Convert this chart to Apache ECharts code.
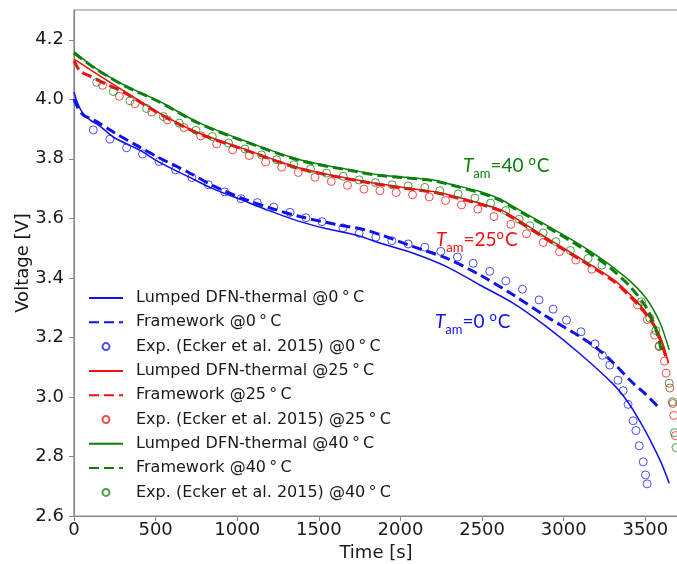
<!DOCTYPE html>
<html>
<head>
<meta charset="utf-8">
<script src="https://cdn.jsdelivr.net/npm/echarts@6/dist/echarts.min.js"></script>
<style>
html,body{margin:0;padding:0;background:#fff;}
#chart{width:677px;height:564px;}
</style>
</head>
<body>
<div id="chart"></div>
<script>
// ---------- data (time [s], voltage [V]) ----------
const xTicks = [0, 500, 1000, 1500, 2000, 2500, 3000, 3500];
const yTicks = [2.6, 2.8, 3.0, 3.2, 3.4, 3.6, 3.8, 4.0, 4.2];

// Lumped DFN-thermal @0 C
const tLumped0 = [0, 20, 50, 100, 159, 250, 400, 527, 700, 850, 1027, 1200, 1384, 1550, 1751, 1874, 2078, 2282, 2486, 2690, 2894, 3099, 3303, 3394, 3480, 3548, 3600, 3646];
const vLumped0 = [4.025, 3.99, 3.957, 3.93, 3.91, 3.87, 3.83, 3.787, 3.74, 3.70, 3.662, 3.625, 3.589, 3.565, 3.54, 3.517, 3.483, 3.438, 3.376, 3.315, 3.236, 3.145, 3.043, 2.982, 2.905, 2.835, 2.775, 2.71];
// Framework @0 C
const tFrame0 = [0, 25, 55, 100, 139, 250, 400, 527, 700, 850, 1027, 1200, 1384, 1600, 1792, 2078, 2282, 2486, 2690, 2894, 3099, 3200, 3303, 3425, 3500, 3578];
const vFrame0 = [4.00, 3.97, 3.948, 3.935, 3.925, 3.887, 3.84, 3.802, 3.755, 3.71, 3.668, 3.635, 3.606, 3.58, 3.56, 3.505, 3.466, 3.41, 3.343, 3.27, 3.203, 3.165, 3.115, 3.046, 3.01, 2.967];
// Exp. (Ecker et al. 2015) @0 C
const tExp0 = [118, 220, 322, 420, 521, 622, 722, 823, 923, 1023, 1123, 1223, 1323, 1421, 1519, 1647, 1747, 1849, 1947, 2047, 2149, 2247, 2349, 2445, 2547, 2645, 2747, 2849, 2935, 3017, 3106, 3191, 3237, 3282, 3332, 3364, 3394, 3425, 3442, 3462, 3487, 3501, 3511];
const vExp0 = [3.897, 3.866, 3.837, 3.816, 3.791, 3.763, 3.737, 3.713, 3.689, 3.666, 3.653, 3.638, 3.62, 3.602, 3.589, 3.568, 3.55, 3.537, 3.525, 3.514, 3.503, 3.489, 3.47, 3.449, 3.422, 3.39, 3.362, 3.326, 3.295, 3.258, 3.219, 3.178, 3.14, 3.107, 3.056, 3.021, 2.975, 2.92, 2.887, 2.836, 2.782, 2.738, 2.708];

// Lumped DFN-thermal @25 C
const tLumped25 = [0, 118, 300, 527, 750, 1027, 1384, 1751, 2000, 2200, 2282, 2486, 2609, 2690, 2894, 3099, 3303, 3405, 3466, 3548, 3600, 3642];
const vLumped25 = [4.135, 4.093, 4.03, 3.953, 3.89, 3.836, 3.769, 3.727, 3.705, 3.690, 3.681, 3.651, 3.630, 3.606, 3.535, 3.466, 3.395, 3.345, 3.31, 3.25, 3.19, 3.113];
// Framework @25 C
const tFrame25 = [0, 37, 100, 200, 300, 527, 750, 1027, 1384, 1751, 2000, 2200, 2282, 2486, 2609, 2690, 2894, 3099, 3303, 3405, 3466, 3548, 3600, 3633];
const vFrame25 = [4.13, 4.095, 4.077, 4.05, 4.025, 3.95, 3.888, 3.834, 3.767, 3.725, 3.703, 3.688, 3.678, 3.648, 3.626, 3.601, 3.53, 3.462, 3.39, 3.338, 3.303, 3.245, 3.18, 3.12];
// Exp. @25 C
const tExp25 = [175, 278, 374, 476, 572, 674, 776, 874, 972, 1074, 1174, 1272, 1374, 1476, 1576, 1675, 1776, 1874, 1974, 2074, 2176, 2276, 2374, 2474, 2573, 2676, 2772, 2874, 2974, 3074, 3172, 3452, 3512, 3556, 3586, 3617, 3627, 3650, 3668, 3674, 3684];
const vExp25 = [4.047, 4.01, 3.985, 3.957, 3.931, 3.905, 3.877, 3.85, 3.83, 3.811, 3.789, 3.772, 3.754, 3.738, 3.724, 3.711, 3.698, 3.693, 3.687, 3.679, 3.672, 3.66, 3.645, 3.631, 3.606, 3.58, 3.548, 3.519, 3.488, 3.46, 3.429, 3.309, 3.26, 3.208, 3.172, 3.12, 3.08, 3.03, 2.978, 2.938, 2.87];

// Lumped DFN-thermal @40 C
const tLumped40 = [0, 118, 300, 527, 750, 1027, 1384, 1751, 1874, 2200, 2282, 2486, 2609, 2690, 2894, 3099, 3221, 3303, 3405, 3507, 3589, 3646];
const vLumped40 = [4.16, 4.11, 4.05, 3.992, 3.925, 3.864, 3.797, 3.757, 3.746, 3.729, 3.718, 3.69, 3.665, 3.64, 3.577, 3.512, 3.468, 3.435, 3.39, 3.33, 3.25, 3.158];
// Framework @40 C
const tFrame40 = [0, 118, 300, 527, 750, 1027, 1384, 1751, 1874, 2200, 2282, 2486, 2609, 2690, 2894, 3099, 3221, 3303, 3405, 3507, 3560, 3598];
const vFrame40 = [4.155, 4.108, 4.048, 3.99, 3.923, 3.862, 3.795, 3.755, 3.744, 3.727, 3.716, 3.686, 3.661, 3.636, 3.572, 3.505, 3.46, 3.425, 3.372, 3.30, 3.235, 3.158];
// Exp. @40 C
const tExp40 = [139, 241, 343, 445, 547, 645, 747, 847, 947, 1047, 1149, 1241, 1347, 1449, 1547, 1649, 1747, 1847, 1949, 2047, 2149, 2241, 2353, 2456, 2552, 2645, 2727, 2792, 2874, 2952, 3041, 3149, 3234, 3476, 3527, 3564, 3584, 3646, 3666, 3678, 3688];
const vExp40 = [4.057, 4.026, 3.995, 3.969, 3.942, 3.92, 3.896, 3.875, 3.853, 3.833, 3.813, 3.797, 3.78, 3.766, 3.752, 3.741, 3.729, 3.72, 3.713, 3.709, 3.704, 3.693, 3.682, 3.668, 3.651, 3.626, 3.597, 3.575, 3.551, 3.522, 3.492, 3.465, 3.443, 3.32, 3.265, 3.223, 3.169, 3.046, 2.984, 2.88, 2.83];

// ---------- chart ----------
const zip = (t, v) => t.map((x, i) => [x, v[i]]);
const BLUE = '#1010f0', RED = '#f01010', GREEN = '#0a800a';
const FONT = 'DejaVu Sans';

function solid(name, t, v, c) {
  return { name, type: 'line', data: zip(t, v), symbol: 'none', smooth: 0.3,
    lineStyle: { color: c, width: 1.5 }, itemStyle: { color: c }, z: 3 };
}
function dashed(name, t, v, c) {
  return { name, type: 'line', data: zip(t, v), symbol: 'none', smooth: 0.3,
    lineStyle: { color: c, width: 3, type: [10, 5] }, itemStyle: { color: c }, z: 4 };
}
function exp(name, t, v, c) {
  return { name, type: 'scatter', data: zip(t, v), symbol: 'circle', symbolSize: 8,
    itemStyle: { color: 'rgba(0,0,0,0)', borderColor: c, borderWidth: 1, opacity: 0.75 }, z: 5 };
}

const names = [
  'Lumped DFN-thermal @0\u2009°\u2009C', 'Framework @0\u2009°\u2009C', 'Exp. (Ecker et al. 2015) @0\u2009°\u2009C',
  'Lumped DFN-thermal @25\u2009°\u2009C', 'Framework @25\u2009°\u2009C', 'Exp. (Ecker et al. 2015) @25\u2009°\u2009C',
  'Lumped DFN-thermal @40\u2009°\u2009C', 'Framework @40\u2009°\u2009C', 'Exp. (Ecker et al. 2015) @40\u2009°\u2009C'
];

const series = [
  solid(names[0], tLumped0, vLumped0, BLUE),
  dashed(names[1], tFrame0, vFrame0, BLUE),
  exp(names[2], tExp0, vExp0, BLUE),
  solid(names[3], tLumped25, vLumped25, RED),
  dashed(names[4], tFrame25, vFrame25, RED),
  exp(names[5], tExp25, vExp25, RED),
  solid(names[6], tLumped40, vLumped40, GREEN),
  dashed(names[7], tFrame40, vFrame40, GREEN),
  exp(names[8], tExp40, vExp40, GREEN)
];

const legendData = names.map((n, i) => (i % 3 === 2) ? { name: n } : { name: n, itemStyle: { opacity: 0 } });

function tamLabel(left, top, color, rest) {
  return {
    type: 'text', left: left, top: top, z: 100,
    style: {
      text: '{t|T}{s|am}{n|' + rest[0] + '}{d|o}{n|' + rest[1] + '}',
      fill: color,
      rich: {
        t: { fontFamily: 'Lato', fontStyle: 'italic', fontSize: 19, lineHeight: 20, verticalAlign: 'top', padding: [2, 0, 0, 0], fill: color },
        s: { fontFamily: 'Lato', fontSize: 13, lineHeight: 13, verticalAlign: 'top', padding: [13, 0, 0, 0], fill: color },
        n: { fontFamily: 'Lato', fontSize: 19, lineHeight: 20, verticalAlign: 'top', padding: [2, 0, 0, 0], fill: color },
        d: { fontFamily: 'Lato', fontSize: 13, lineHeight: 13, verticalAlign: 'top', padding: [0, 1, 0, 0], fill: color }
      }
    }
  };
}

const chart = echarts.init(document.getElementById('chart'), null, { renderer: 'canvas' });
chart.setOption({
  animation: false,
  backgroundColor: '#fff',
  grid: { left: 74, top: 10, width: 604, height: 506, show: true, borderColor: '#888', borderWidth: 1.2,
          containLabel: false, outerBoundsMode: 'none' },
  xAxis: {
    type: 'value', min: 0, max: 3700, interval: 500,
    name: 'Time [s]', nameLocation: 'middle', nameGap: 28, nameMoveOverlap: false,
    nameTextStyle: { fontFamily: FONT, fontSize: 18, color: '#1a1a1a' },
    axisLine: { show: true, lineStyle: { color: '#888', width: 1.2 } },
    axisTick: { show: true, inside: false, length: 5, lineStyle: { color: '#888' }, customValues: xTicks },
    axisLabel: { fontFamily: FONT, fontSize: 18, color: '#1a1a1a', margin: 5, customValues: xTicks,
                 formatter: v => String(Math.round(v)) },
    splitLine: { show: false }
  },
  yAxis: {
    type: 'value', min: 2.6, max: 4.3, interval: 0.2,
    name: 'Voltage [V]', nameLocation: 'middle', nameGap: 42, nameMoveOverlap: false,
    nameTextStyle: { fontFamily: FONT, fontSize: 18, color: '#1a1a1a' },
    axisLine: { show: true, lineStyle: { color: '#888', width: 1.2 } },
    axisTick: { show: true, inside: false, length: 5, lineStyle: { color: '#888' }, customValues: yTicks },
    axisLabel: { fontFamily: FONT, fontSize: 18, color: '#1a1a1a', margin: 10, customValues: yTicks,
                 formatter: v => v.toFixed(1) },
    splitLine: { show: false }
  },
  legend: {
    orient: 'vertical', left: 88, top: 289, padding: 0,
    itemWidth: 34, itemHeight: 7, itemGap: 6.3,
    textStyle: { fontFamily: FONT, fontSize: 16, color: '#1a1a1a', lineHeight: 18, padding: [0, 0, 0, 8] },
    data: legendData
  },
  graphic: [
    tamLabel(463, 154, GREEN, ['=40 ', 'C']),
    tamLabel(436, 228, RED, ['=25', 'C']),
    tamLabel(435, 310, BLUE, ['=0 ', 'C'])
  ],
  series: series
});
</script>
</body>
</html>
